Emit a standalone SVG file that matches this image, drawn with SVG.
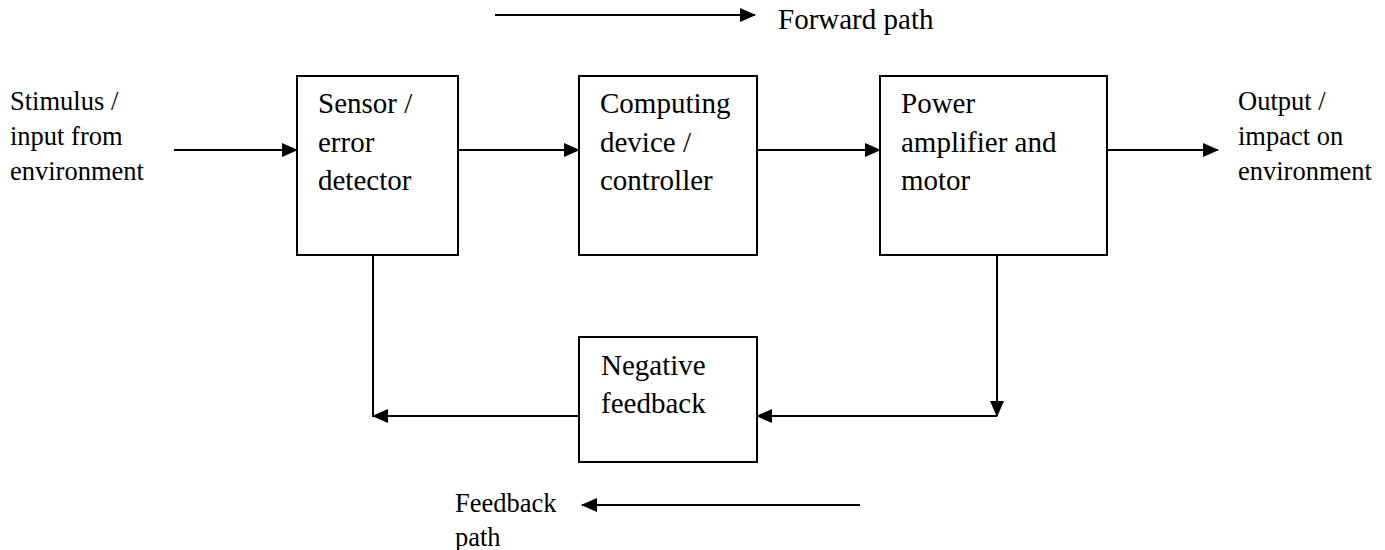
<svg xmlns="http://www.w3.org/2000/svg" width="1385" height="550" viewBox="0 0 1385 550">
  <style>
    .box { fill: #ffffff; stroke: #000000; stroke-width: 2; }
    .wire { fill: none; stroke: #000000; stroke-width: 2; }
    .lbl { font-family: "Liberation Serif", "Times New Roman", serif; font-size: 29px; fill: #000000; }
    .side { font-family: "Liberation Serif", "Times New Roman", serif; font-size: 26.5px; fill: #000000; }
  </style>
  <defs>
    <marker id="head" markerUnits="userSpaceOnUse" markerWidth="16" markerHeight="14"
            viewBox="0 0 16 14" refX="15" refY="7" orient="auto">
      <path d="M0,0 L16,7 L0,14 Z" fill="#000000"/>
    </marker>
  </defs>

  <rect width="1385" height="550" fill="#ffffff"/>

  <!-- legend: forward path -->
  <g id="legend-forward">
    <line class="wire" x1="495" y1="15" x2="755" y2="15" marker-end="url(#head)"/>
    <text class="lbl" x="778" y="29">Forward path</text>
  </g>

  <!-- legend: feedback path -->
  <g id="legend-feedback">
    <line class="wire" x1="860" y1="505" x2="582" y2="505" marker-end="url(#head)"/>
    <text class="side" x="455" y="512">Feedback</text>
    <text class="side" x="455" y="546">path</text>
  </g>

  <!-- environment labels -->
  <g id="input-label">
    <text class="side" x="10" y="110">Stimulus /</text>
    <text class="side" x="10" y="145">input from</text>
    <text class="side" x="10" y="180">environment</text>
  </g>
  <g id="output-label">
    <text class="side" x="1238" y="110">Output /</text>
    <text class="side" x="1238" y="145">impact on</text>
    <text class="side" x="1238" y="180">environment</text>
  </g>

  <!-- blocks -->
  <g id="sensor">
    <rect class="box" x="297" y="76" width="161" height="179"/>
    <text class="lbl" x="318" y="113">Sensor /</text>
    <text class="lbl" x="318" y="152">error</text>
    <text class="lbl" x="318" y="190">detector</text>
  </g>
  <g id="controller">
    <rect class="box" x="579" y="76" width="178" height="179"/>
    <text class="lbl" x="600" y="113">Computing</text>
    <text class="lbl" x="600" y="152">device /</text>
    <text class="lbl" x="600" y="190">controller</text>
  </g>
  <g id="actuator">
    <rect class="box" x="880" y="76" width="227" height="179"/>
    <text class="lbl" x="901" y="113">Power</text>
    <text class="lbl" x="901" y="152">amplifier and</text>
    <text class="lbl" x="901" y="190">motor</text>
  </g>
  <g id="negative-feedback">
    <rect class="box" x="579" y="337" width="178" height="125"/>
    <text class="lbl" x="601" y="375">Negative</text>
    <text class="lbl" x="601" y="413">feedback</text>
  </g>

  <!-- connectors -->
  <g id="connectors">
    <line class="wire" x1="174" y1="150" x2="297" y2="150" marker-end="url(#head)"/>
    <line class="wire" x1="458" y1="150" x2="579" y2="150" marker-end="url(#head)"/>
    <line class="wire" x1="757" y1="150" x2="880" y2="150" marker-end="url(#head)"/>
    <line class="wire" x1="1107" y1="150" x2="1218" y2="150" marker-end="url(#head)"/>
    <line class="wire" x1="997" y1="255" x2="997" y2="416" marker-end="url(#head)"/>
    <line class="wire" x1="997" y1="416" x2="757" y2="416" marker-end="url(#head)"/>
    <line class="wire" x1="579" y1="416" x2="373" y2="416" marker-end="url(#head)"/>
    <line class="wire" x1="373" y1="417" x2="373" y2="255"/>
  </g>
</svg>
